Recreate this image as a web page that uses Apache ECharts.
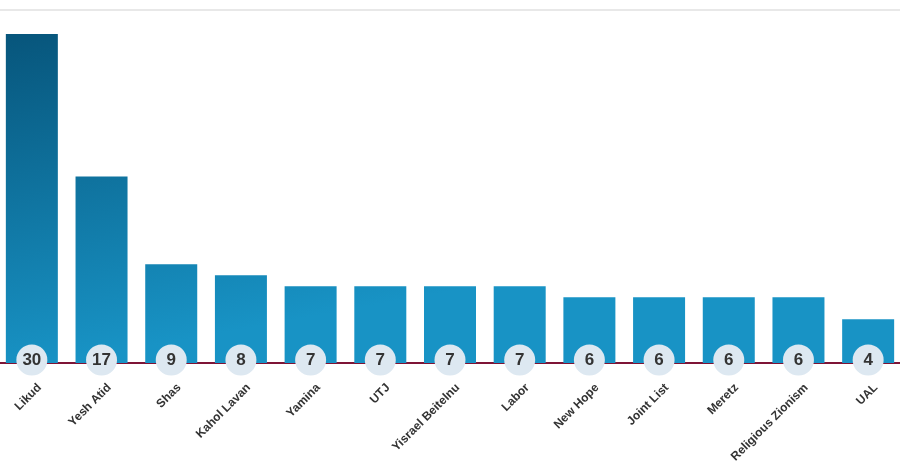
<!DOCTYPE html>
<html>
<head>
<meta charset="utf-8">
<script src="https://cdn.jsdelivr.net/npm/echarts@6/dist/echarts.min.js"></script>
<style>html,body{margin:0;padding:0;background:#fff;overflow:hidden;width:900px;height:470px;}#c{width:906px;height:470px;margin-left:-3px;}</style>
</head>
<body>
<div id="c"></div>
<script>
var parties = ["Likud","Yesh Atid","Shas","Kahol Lavan","Yamina","UTJ","Yisrael Beitelnu","Labor","New Hope","Joint List","Meretz","Religious Zionism","UAL"];
var seats = [30,17,9,8,7,7,7,7,6,6,6,6,4];

var chart = echarts.init(document.getElementById('c'), null, {renderer:'canvas'});
chart.setOption({
  animation:false,
  backgroundColor:'#ffffff',
  grid:{left:0,right:0,top:34,bottom:107,containLabel:false},
  graphic:[{type:'line',shape:{x1:0,y1:10,x2:906,y2:10},style:{stroke:'#e8e8e8',lineWidth:2},z:-1}],
  xAxis:{
    type:'category',
    data:parties,
    axisLine:{show:true,lineStyle:{color:'#7e1436',width:2}},
    axisTick:{show:false},
    axisLabel:{rotate:45,interval:0,margin:15,align:'right',verticalAlign:'top',padding:[5,0,0,0],overflow:'none',width:300,hideOverlap:false,color:'#333',fontFamily:'Liberation Sans, Arial, sans-serif',fontSize:12,fontWeight:'bold'}
  },
  yAxis:{type:'value',min:0,max:30,show:false,splitLine:{show:false}},
  series:[{
    type:'bar',
    data:seats,
    barWidth:52,
    itemStyle:{
      color:new echarts.graphic.LinearGradient(0,34,60,363,[{offset:0,color:'#07557b'},{offset:1,color:'#1893c5'}],true)
    },
    label:{
      show:true,
      position:'insideBottom',
      distance:3,
      formatter:'{c}',
      backgroundColor:'#dde8f1',
      width:31,height:31,lineHeight:31,
      align:'center',verticalAlign:'middle',
      borderRadius:16,
      padding:0,
      color:'#333',
      fontFamily:'Liberation Sans, Arial, sans-serif',
      fontSize:17,fontWeight:'bold'
    }
  }]
});
</script>
</body>
</html>
